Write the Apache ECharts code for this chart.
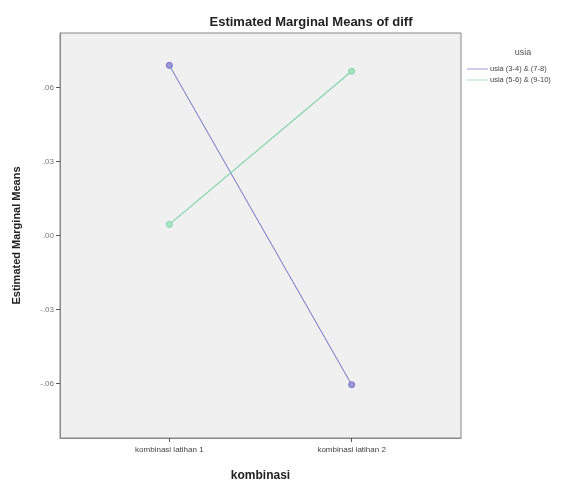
<!DOCTYPE html>
<html><head><meta charset="utf-8">
<script src="https://cdn.jsdelivr.net/npm/echarts@6/dist/echarts.min.js"></script>
<style>html,body{margin:0;padding:0;background:#fff}#c{width:576px;height:483px}</style>
</head><body><div id="c"></div>
<script>
var categories = ['kombinasi latihan 1', 'kombinasi latihan 2'];
var seriesNames = ['usia (3-4) & (7-8)', 'usia (5-6) & (9-10)'];
var usia1 = [0.0689, -0.0604];
var usia2 = [0.0045, 0.0665];
var yTicks = [-0.06, -0.03, 0, 0.03, 0.06];
var yTickLabels = ['-.06', '-.03', '.00', '.03', '.06'];

var chart = echarts.init(document.getElementById('c'));
function pts(arr){ return arr.map(function(v,i){ return [i+1, v]; }); }
var font = 'Liberation Sans, Arial, sans-serif';
chart.setOption({
  animation: false,
  backgroundColor: '#fff',
  title: [
    {text: 'Estimated Marginal Means of diff', left: 306, top: 11, textAlign: 'center',
     textStyle: {fontFamily: font, fontSize: 13, fontWeight: 'bold', color: '#222'}},
    {text: 'usia', left: 518, top: 43, textAlign: 'center',
     textStyle: {fontFamily: font, fontSize: 9, fontWeight: 'normal', color: '#555'}}
  ],
  legend: {
    orient: 'vertical', left: 462, top: 60, itemGap: 3,
    itemWidth: 21, itemHeight: 1, icon: 'rect',
    itemStyle: {borderWidth: 0},
    textStyle: {fontFamily: font, fontSize: 7.5, color: '#444', padding: [0,0,0,-3]},
    data: seriesNames
  },
  grid: {left: 60, right: 115, top: 33, bottom: 45, show: true, outerBoundsMode: 'none', containLabel: false,
         backgroundColor: '#f0f0f0', borderColor: '#888', borderWidth: 1},
  xAxis: {
    type: 'value', min: 0.4, max: 2.6,
    name: 'kombinasi', nameLocation: 'middle', nameGap: 32,
    nameTextStyle: {fontFamily: font, fontSize: 12, fontWeight: 'bold', color: '#222'},
    axisLine: {show: true, onZero: false, lineStyle: {color: '#888'}},
    axisTick: {show: true, length: 4, lineStyle: {color: '#555'}, customValues: [1, 2]},
    splitLine: {show: false},
    axisLabel: {customValues: [1, 2], fontFamily: font, fontSize: 8, color: '#444', margin: 8,
      formatter: function(v){ return categories[Math.round(v)-1] || ''; }}
  },
  yAxis: {
    type: 'value', min: -0.082, max: 0.082,
    name: 'Estimated Marginal Means', nameLocation: 'middle', nameGap: 38,
    nameTextStyle: {fontFamily: font, fontSize: 11, fontWeight: 'bold', color: '#222'},
    axisLine: {show: true, onZero: false, lineStyle: {color: '#888'}},
    axisTick: {show: true, length: 4, lineStyle: {color: '#555'}, customValues: yTicks},
    splitLine: {show: false},
    axisLabel: {customValues: yTicks, fontFamily: font, fontSize: 8, color: '#777', margin: 6,
      formatter: function(v){ var i = yTicks.findIndex(function(t){return Math.abs(t-v)<1e-9;}); return i>=0 ? yTickLabels[i] : ''; }}
  },
  series: [
    {name: seriesNames[0], type: 'line', data: pts(usia1), symbol: 'circle', symbolSize: 6,
     lineStyle: {color: '#7070c8', width: 1}, itemStyle: {color: '#9a9ad8', borderColor: '#7070c8', borderWidth: 1}},
    {name: seriesNames[1], type: 'line', data: pts(usia2), symbol: 'circle', symbolSize: 6,
     lineStyle: {color: '#80d4a4', width: 1.2}, itemStyle: {color: '#a8e4c2', borderColor: '#80d4a4', borderWidth: 1}}
  ]
});
</script></body></html>
